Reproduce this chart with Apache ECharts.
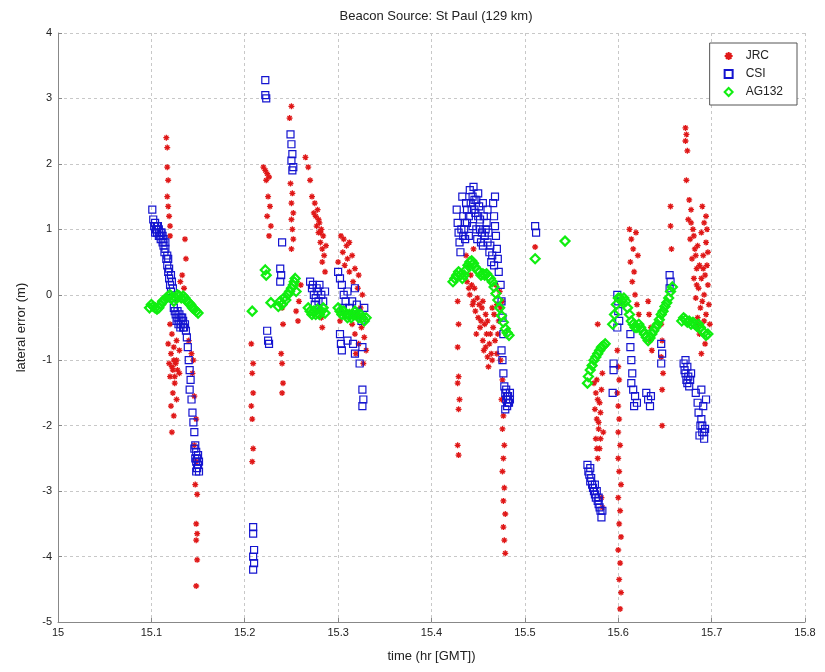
<!DOCTYPE html>
<html>
<head>
<meta charset="utf-8">
<script src="https://cdn.jsdelivr.net/npm/echarts/dist/echarts.min.js"></script>
</head>
<body style="margin:0;background:#ffffff">
<div id="chart" style="width:825px;height:672px"></div>
<script>
var titleText = 'Beacon Source: St Paul (129 km)';
var xName = 'time (hr [GMT])';
var yName = 'lateral error (m)';
var seriesNames = ['JRC', 'CSI', 'AG132'];
var xTicks = ['15', '15.1', '15.2', '15.3', '15.4', '15.5', '15.6', '15.7', '15.8'];
var yTicks = ['-5', '-4', '-3', '-2', '-1', '0', '1', '2', '3', '4'];

var jrc = [
  [15.116,2.4],[15.117,2.25],[15.117,1.95],[15.118,1.75],[15.117,1.5],[15.118,1.35],[15.119,1.2],[15.12,1.05],[15.12,0.9],
  [15.136,0.85],[15.137,0.55],[15.133,0.3],[15.131,0.2],[15.135,0.1],
  [15.12,-0.45],[15.122,-0.6],[15.118,-0.75],[15.121,-0.9],[15.124,-1.0],[15.122,-1.1],[15.126,-1.05],[15.128,-1.15],
  [15.12,-1.25],[15.125,-1.35],[15.123,-1.5],[15.121,-1.7],[15.124,-1.85],[15.122,-2.1],[15.127,-1.6],[15.13,-1.2],
  [15.13,-0.85],[15.127,-0.7],[15.123,-1.15],[15.125,-1.25],[15.127,-1.0],[15.124,-0.8],[15.119,-1.05],
  [15.143,-0.9],[15.144,-1.2],[15.146,-1.55],[15.148,-1.9],[15.146,-2.3],[15.148,-2.55],[15.147,-2.9],[15.149,-3.05],
  [15.148,-3.5],[15.149,-3.65],[15.148,-3.75],[15.149,-4.05],[15.148,-4.45],[15.145,-1.0],[15.14,-0.7],
  [15.25,2.88],[15.248,2.7],
  [15.22,1.95],[15.222,1.9],[15.224,1.85],[15.226,1.8],[15.223,1.75],[15.225,1.5],[15.227,1.35],[15.224,1.2],[15.228,1.05],[15.226,0.9],
  [15.249,1.7],[15.251,1.55],[15.25,1.4],[15.252,1.25],[15.25,1.15],[15.251,1.0],[15.252,0.85],[15.25,0.7],
  [15.265,2.1],[15.268,1.95],[15.27,1.75],[15.272,1.5],[15.275,1.4],[15.278,1.3],[15.276,1.2],[15.28,1.1],[15.282,1.0],
  [15.279,0.95],[15.284,0.9],[15.281,0.8],[15.285,0.6],[15.283,0.5],[15.286,0.35],
  [15.274,1.25],[15.277,1.05],[15.279,1.15],[15.281,0.95],[15.283,0.7],[15.287,0.75],
  [15.26,0.15],[15.258,-0.1],[15.255,-0.25],[15.257,-0.4],
  [15.24,-0.2],[15.241,-0.45],[15.239,-0.9],[15.24,-1.05],[15.241,-1.35],[15.24,-1.5],
  [15.207,-0.75],[15.209,-1.05],[15.208,-1.2],[15.209,-1.5],[15.207,-1.7],[15.208,-1.9],[15.209,-2.35],[15.208,-2.55],
  [15.283,-0.25],[15.282,-0.35],[15.283,-0.5],
  [15.303,0.9],[15.306,0.85],[15.309,0.75],[15.312,0.8],[15.305,0.65],[15.31,0.55],[15.307,0.45],[15.312,0.35],[15.315,0.6],[15.3,0.5],
  [15.315,-0.45],[15.318,-0.6],[15.32,-0.3],[15.322,-0.75],[15.325,-0.5],[15.319,-0.9],[15.324,-0.2],[15.328,-0.65],[15.33,-0.85],
  [15.316,0.2],[15.321,0.1],[15.326,0.0],[15.318,0.4],[15.322,0.3],[15.302,-0.4],[15.327,-1.05],
  [15.428,-0.1],[15.429,-0.45],[15.428,-0.8],[15.429,-1.25],[15.428,-1.35],[15.43,-1.6],[15.429,-1.75],[15.428,-2.3],[15.429,-2.45],
  [15.437,0.6],[15.44,0.45],[15.442,0.3],[15.445,0.7],[15.443,0.15],[15.441,0.0],[15.445,-0.1],[15.447,-0.25],[15.449,-0.05],
  [15.45,-0.35],[15.452,-0.5],[15.448,-0.6],[15.454,-0.2],[15.455,-0.7],[15.457,-0.45],[15.456,-0.85],[15.459,-0.6],[15.46,-0.95],
  [15.462,-0.75],[15.461,-1.1],[15.464,-0.9],[15.458,-0.3],[15.466,-0.5],[15.468,-0.7],[15.47,-0.9],[15.472,-0.4],[15.474,-0.2],
  [15.476,-0.1],[15.473,0.05],[15.469,0.15],
  [15.438,0.2],[15.44,0.1],[15.444,-0.15],[15.446,0.1],[15.451,-0.15],[15.453,-0.4],[15.455,-0.1],[15.458,-0.8],[15.46,-0.4],
  [15.463,-0.6],[15.465,-1.0],[15.467,-0.3],[15.471,-0.6],[15.465,-0.2],[15.47,-0.15],
  [15.474,-1.0],[15.476,-1.3],[15.475,-1.6],[15.477,-1.85],[15.476,-2.05],[15.478,-2.3],[15.477,-2.5],[15.476,-2.7],[15.478,-2.95],
  [15.477,-3.15],[15.479,-3.35],[15.477,-3.55],[15.478,-3.75],[15.479,-3.95],
  [15.511,0.73],
  [15.578,-0.45],
  [15.574,-1.35],[15.576,-1.5],[15.578,-1.6],[15.575,-1.75],[15.577,-1.9],[15.579,-2.05],[15.576,-2.2],[15.58,-2.35],[15.578,-2.5],
  [15.582,-1.45],[15.583,-1.2],[15.581,-1.8],[15.584,-2.1],[15.582,-3.1],[15.583,-3.25],
  [15.577,-1.3],[15.58,-1.65],[15.579,-1.95],[15.581,-2.2],[15.577,-2.35],
  [15.599,-0.85],[15.6,-1.1],[15.601,-1.3],[15.599,-1.5],[15.6,-1.7],[15.601,-1.9],[15.6,-2.1],[15.602,-2.3],[15.6,-2.5],
  [15.601,-2.7],[15.603,-2.9],[15.6,-3.1],[15.602,-3.3],[15.601,-3.5],[15.603,-3.7],[15.6,-3.9],[15.602,-4.1],[15.601,-4.35],
  [15.603,-4.55],[15.602,-4.8],
  [15.612,1.0],[15.614,0.85],[15.616,0.7],[15.613,0.5],[15.617,0.35],[15.615,0.2],[15.618,0.0],[15.62,-0.15],[15.622,-0.3],
  [15.619,0.95],[15.621,0.6],
  [15.632,-0.1],[15.633,-0.3],[15.635,-0.5],[15.634,-0.7],[15.636,-0.85],
  [15.646,-0.45],[15.647,-0.7],[15.646,-0.95],[15.648,-1.2],[15.647,-1.45],[15.647,-2.0],
  [15.656,1.35],[15.656,1.05],[15.657,0.7],
  [15.672,2.55],[15.673,2.45],[15.672,2.35],[15.674,2.2],[15.673,1.75],
  [15.676,1.45],[15.678,1.3],[15.675,1.15],[15.68,1.0],[15.677,0.85],[15.682,0.7],[15.679,0.55],[15.684,0.4],[15.681,0.25],
  [15.686,0.1],[15.683,-0.05],[15.688,-0.2],[15.685,-0.35],[15.69,1.35],[15.692,1.1],[15.689,0.95],[15.694,0.8],[15.691,0.6],
  [15.695,0.45],[15.693,0.3],[15.696,0.15],[15.692,0.0],[15.697,-0.15],[15.694,-0.3],[15.698,-0.45],[15.687,-0.6],[15.693,-0.75],
  [15.689,-0.9],[15.695,1.0],
  [15.678,1.1],[15.681,0.9],[15.683,0.6],[15.685,0.75],[15.687,0.45],[15.689,0.25],[15.691,0.4],[15.684,0.15],[15.69,-0.1],
  [15.692,-0.4],[15.686,-0.45],[15.696,0.65],[15.694,1.2]
];

var csi = [
  [15.101,1.3],[15.102,1.15],[15.103,1.05],[15.104,1.1],[15.105,1.0],[15.106,0.95],[15.107,1.05],[15.108,1.0],[15.109,0.9],
  [15.11,0.85],[15.111,0.95],[15.112,0.8],[15.113,0.75],[15.114,0.65],[15.115,0.7],[15.116,0.55],[15.117,0.45],[15.118,0.35],
  [15.119,0.25],[15.12,0.15],[15.121,0.05],[15.122,-0.05],[15.123,0.1],[15.124,-0.2],[15.125,-0.25],[15.126,-0.3],[15.127,-0.4],
  [15.104,0.95],[15.106,1.05],[15.108,0.9],[15.11,0.95],[15.112,0.9],[15.113,0.85],[15.115,0.8],[15.117,0.6],[15.118,0.55],
  [15.119,0.4],[15.121,0.3],[15.122,0.2],
  [15.128,-0.35],[15.129,-0.45],[15.13,-0.4],[15.131,-0.5],[15.132,-0.45],[15.133,-0.35],[15.134,-0.4],[15.135,-0.5],
  [15.128,-0.25],[15.13,-0.3],[15.132,-0.35],[15.134,-0.5],[15.136,-0.45],
  [15.137,-0.55],[15.138,-0.65],[15.139,-0.8],[15.14,-1.0],[15.141,-1.15],[15.142,-1.3],[15.141,-1.45],[15.143,-1.6],
  [15.144,-1.8],[15.145,-1.95],[15.146,-2.1],[15.147,-2.3],[15.148,-2.4],[15.149,-2.5],[15.15,-2.6],[15.151,-2.7],
  [15.148,-2.55],[15.146,-2.35],[15.15,-2.45],[15.147,-2.5],[15.149,-2.65],[15.151,-2.55],[15.148,-2.7],
  [15.222,3.28],[15.222,3.05],[15.223,3.0],
  [15.249,2.45],[15.25,2.3],[15.251,2.15],[15.25,2.05],[15.252,1.95],[15.251,1.9],
  [15.24,0.8],[15.238,0.4],[15.239,0.3],[15.238,0.2],
  [15.224,-0.55],[15.225,-0.7],[15.226,-0.75],
  [15.209,-3.55],[15.209,-3.65],[15.21,-3.9],[15.209,-4.0],[15.21,-4.1],[15.209,-4.2],
  [15.27,0.2],[15.272,0.1],[15.274,0.0],[15.276,-0.05],[15.278,0.05],[15.28,0.15],[15.282,0.0],[15.284,-0.1],[15.286,0.05],
  [15.275,-0.15],[15.279,-0.1],[15.273,0.15],[15.277,0.1],
  [15.3,0.35],[15.302,0.25],[15.304,0.15],[15.306,0.0],[15.308,-0.1],[15.31,0.05],[15.312,-0.2],[15.315,-0.1],[15.318,0.1],
  [15.32,-0.15],[15.322,-0.3],[15.325,-0.4],[15.328,-0.2],[15.305,-0.2],[15.31,-0.3],
  [15.302,-0.6],[15.303,-0.75],[15.304,-0.85],[15.31,-0.7],[15.316,-0.75],[15.318,-0.9],[15.323,-1.05],[15.326,-0.8],
  [15.326,-1.45],[15.327,-1.6],[15.326,-1.7],
  [15.427,1.3],[15.428,1.1],[15.429,0.95],[15.43,0.8],[15.431,0.65],[15.433,1.5],[15.434,1.2],[15.435,1.0],[15.436,0.85],
  [15.437,1.4],[15.438,1.1],[15.44,0.9],[15.441,1.6],[15.443,1.3],[15.444,1.05],[15.445,1.65],[15.446,1.45],[15.447,1.25],
  [15.448,1.0],[15.449,0.85],[15.45,1.55],[15.451,1.35],[15.452,1.15],[15.454,0.95],[15.455,0.75],[15.456,1.2],[15.458,1.0],
  [15.46,0.8],[15.462,0.65],[15.464,0.5],[15.466,1.4],[15.467,1.2],[15.468,1.05],[15.469,0.9],[15.47,0.7],[15.471,0.55],
  [15.432,1.0],[15.434,0.9],[15.436,1.1],[15.438,1.3],[15.44,1.2],[15.442,1.4],[15.444,1.5],[15.446,1.3],[15.448,1.45],
  [15.45,1.2],[15.452,1.0],[15.453,0.8],[15.457,0.9],[15.459,1.1],[15.461,0.95],[15.463,0.75],[15.465,0.6],[15.467,0.45],
  [15.46,1.3],[15.455,1.4],
  [15.468,1.5],[15.472,0.35],[15.474,0.15],[15.475,-0.1],[15.476,-0.35],[15.477,-0.6],[15.475,-0.85],[15.476,-1.0],
  [15.477,-1.2],[15.478,-1.4],[15.479,-1.5],[15.48,-1.6],[15.481,-1.7],[15.482,-1.55],[15.483,-1.65],[15.479,-1.75],[15.484,-1.5],
  [15.48,-1.45],[15.482,-1.65],[15.484,-1.6],[15.481,-1.55],
  [15.511,1.05],[15.512,0.95],
  [15.567,-2.6],[15.568,-2.7],[15.569,-2.75],[15.57,-2.85],[15.572,-2.9],[15.573,-2.95],[15.574,-3.0],[15.575,-3.05],
  [15.576,-3.1],[15.578,-3.15],[15.579,-3.2],[15.58,-3.25],[15.581,-3.3],[15.582,-3.4],[15.57,-2.65],[15.575,-2.9],
  [15.571,-2.8],[15.577,-3.0],[15.579,-3.1],[15.583,-3.3],
  [15.599,0.0],[15.6,-0.1],[15.6,-0.25],[15.601,-0.4],[15.599,-0.5],
  [15.595,-1.05],[15.595,-1.15],[15.594,-1.5],
  [15.613,-0.6],[15.613,-0.8],[15.614,-1.0],[15.615,-1.2],[15.614,-1.35],[15.616,-1.45],[15.618,-1.55],[15.62,-1.65],[15.617,-1.7],
  [15.63,-1.5],[15.632,-1.6],[15.634,-1.7],[15.635,-1.55],
  [15.646,-0.75],[15.647,-0.9],[15.646,-1.05],
  [15.655,0.3],[15.656,0.2],[15.655,0.1],
  [15.67,-1.05],[15.671,-1.15],[15.672,-1.2],[15.673,-1.3],[15.674,-1.1],[15.675,-1.25],[15.676,-1.4],[15.678,-1.2],
  [15.672,-1.0],[15.674,-1.35],[15.677,-1.3],
  [15.683,-1.5],[15.685,-1.65],[15.686,-1.8],[15.688,-2.0],[15.69,-2.1],[15.692,-2.2],[15.691,-1.7],[15.693,-2.05],
  [15.694,-1.6],[15.689,-1.45],[15.687,-2.15],[15.69,-2.0],[15.692,-2.1],[15.689,-1.9]
];

var ag132 = [
  [15.098,-0.2],[15.1,-0.15],[15.102,-0.18],[15.104,-0.2],[15.106,-0.22],[15.108,-0.2],[15.11,-0.15],[15.112,-0.1],
  [15.114,-0.08],[15.116,-0.05],[15.118,-0.02],[15.12,0.0],[15.122,-0.05],[15.124,-0.1],[15.126,-0.05],[15.128,0.0],
  [15.13,-0.02],[15.132,-0.05],[15.134,-0.02],[15.136,-0.05],[15.138,-0.1],[15.14,-0.12],[15.142,-0.15],[15.144,-0.2],
  [15.146,-0.22],[15.148,-0.25],[15.15,-0.28],
  [15.208,-0.25],[15.222,0.38],[15.223,0.3],[15.228,-0.12],[15.236,-0.18],[15.238,-0.1],[15.24,-0.15],[15.242,-0.05],
  [15.244,-0.08],[15.246,0.0],[15.248,0.05],[15.25,0.1],[15.252,0.15],[15.253,0.2],[15.254,0.25],[15.255,0.05],
  [15.268,-0.2],[15.27,-0.25],[15.272,-0.3],[15.274,-0.25],[15.276,-0.3],[15.278,-0.22],[15.28,-0.3],[15.282,-0.25],
  [15.284,-0.2],[15.286,-0.28],
  [15.3,-0.2],[15.302,-0.25],[15.304,-0.3],[15.306,-0.25],[15.308,-0.3],[15.31,-0.35],[15.312,-0.3],[15.314,-0.35],
  [15.316,-0.3],[15.318,-0.25],[15.32,-0.3],[15.322,-0.35],[15.324,-0.3],[15.326,-0.35],[15.328,-0.4],[15.33,-0.35],
  [15.423,0.2],[15.425,0.25],[15.427,0.3],[15.429,0.35],[15.431,0.3],[15.433,0.25],[15.435,0.3],[15.437,0.38],[15.439,0.45],
  [15.441,0.5],[15.443,0.52],[15.445,0.48],[15.447,0.42],[15.449,0.38],[15.451,0.35],[15.453,0.3],[15.455,0.32],
  [15.457,0.3],[15.459,0.32],[15.461,0.28],[15.463,0.25],[15.465,0.2],[15.467,0.12],[15.469,0.02],[15.471,-0.08],
  [15.473,-0.2],[15.475,-0.32],[15.477,-0.42],[15.479,-0.52],[15.481,-0.58],[15.483,-0.62],
  [15.511,0.55],[15.543,0.82],
  [15.567,-1.35],[15.568,-1.25],[15.57,-1.15],[15.572,-1.08],[15.574,-1.0],[15.576,-0.95],[15.578,-0.9],[15.58,-0.85],
  [15.582,-0.8],[15.584,-0.78],[15.586,-0.75],
  [15.594,-0.45],[15.596,-0.3],[15.598,-0.15],[15.6,-0.05],[15.602,-0.05],[15.604,-0.1],[15.606,-0.05],[15.608,-0.1],
  [15.61,-0.2],[15.612,-0.3],[15.614,-0.4],[15.616,-0.45],[15.618,-0.5],[15.62,-0.5],[15.622,-0.45],[15.624,-0.5],
  [15.626,-0.55],[15.628,-0.6],[15.63,-0.65],[15.632,-0.7],[15.634,-0.66],[15.636,-0.6],[15.638,-0.55],[15.64,-0.5],
  [15.642,-0.45],[15.644,-0.38],[15.646,-0.3],[15.648,-0.25],[15.65,-0.18],[15.652,-0.12],[15.654,-0.05],[15.656,0.05],
  [15.658,0.12],
  [15.668,-0.4],[15.67,-0.35],[15.672,-0.38],[15.674,-0.42],[15.676,-0.4],[15.678,-0.45],[15.68,-0.42],[15.682,-0.45],
  [15.684,-0.48],[15.686,-0.45],[15.688,-0.5],[15.69,-0.55],[15.692,-0.58],[15.694,-0.62],[15.696,-0.6]
];

var chart = echarts.init(document.getElementById('chart'), null, {renderer: 'canvas'});
var font = 'Liberation Sans, Arial, Helvetica, sans-serif';
var starPath = 'path://M4,0L4,8M0,4L8,4M1.2,1.2L6.8,6.8M6.8,1.2L1.2,6.8';

chart.setOption({
  animation: false,
  backgroundColor: '#ffffff',
  title: {
    text: titleText,
    left: 431, top: 5, textAlign: 'center',
    textStyle: {fontFamily: font, fontSize: 13, fontWeight: 'normal', color: '#222'}
  },
  legend: {
    data: seriesNames,
    orient: 'vertical',
    right: 28, top: 43,
    backgroundColor: '#fff',
    borderColor: '#555', borderWidth: 1,
    padding: [6, 14, 6, 14],
    itemWidth: 8, itemHeight: 8, itemGap: 4,
    textStyle: {fontFamily: font, fontSize: 12, color: '#222', padding: [0, 0, 0, 8], lineHeight: 14}
  },
  grid: {left: 58, right: 20, top: 33, bottom: 50},
  xAxis: {
    type: 'value', min: 15, max: 15.8, interval: 0.1,
    name: xName, nameLocation: 'middle', nameGap: 28,
    nameTextStyle: {fontFamily: font, fontSize: 13, color: '#222'},
    axisLine: {show: true, onZero: false, lineStyle: {color: '#888', width: 1}},
    axisTick: {show: true, inside: true, length: 4, lineStyle: {color: '#888'}},
    axisLabel: {fontFamily: font, fontSize: 11, color: '#222', margin: 5,
      formatter: function (v) { return xTicks[Math.round((v - 15) * 10)]; }},
    splitLine: {show: true, lineStyle: {color: '#c8c8c8', type: [3, 3], width: 1}}
  },
  yAxis: {
    type: 'value', min: -5, max: 4, interval: 1,
    name: yName, nameLocation: 'middle', nameGap: 30,
    nameTextStyle: {fontFamily: font, fontSize: 13, color: '#222'},
    axisLine: {show: true, onZero: false, lineStyle: {color: '#888', width: 1}},
    axisTick: {show: true, inside: true, length: 4, lineStyle: {color: '#888'}},
    axisLabel: {fontFamily: font, fontSize: 11, color: '#222', margin: 6,
      formatter: function (v) { return yTicks[Math.round(v + 5)]; }},
    splitLine: {show: true, lineStyle: {color: '#c8c8c8', type: [3, 3], width: 1}}
  },
  series: [
    {
      name: seriesNames[0], type: 'scatter', data: jrc, z: 2,
      symbol: starPath, symbolSize: 6,
      itemStyle: {color: 'rgba(0,0,0,0)', borderColor: '#e01818', borderWidth: 1.3, opacity: 1}
    },
    {
      name: seriesNames[1], type: 'scatter', data: csi, z: 3,
      symbol: 'rect', symbolSize: 7,
      itemStyle: {color: 'rgba(0,0,0,0)', borderColor: '#1414d0', borderWidth: 1.2, opacity: 1}
    },
    {
      name: seriesNames[2], type: 'scatter', data: ag132, z: 4,
      symbol: 'diamond', symbolSize: 9,
      itemStyle: {color: 'rgba(0,0,0,0)', borderColor: '#10ee10', borderWidth: 2.2, opacity: 1}
    }
  ]
});
</script>
</body>
</html>
